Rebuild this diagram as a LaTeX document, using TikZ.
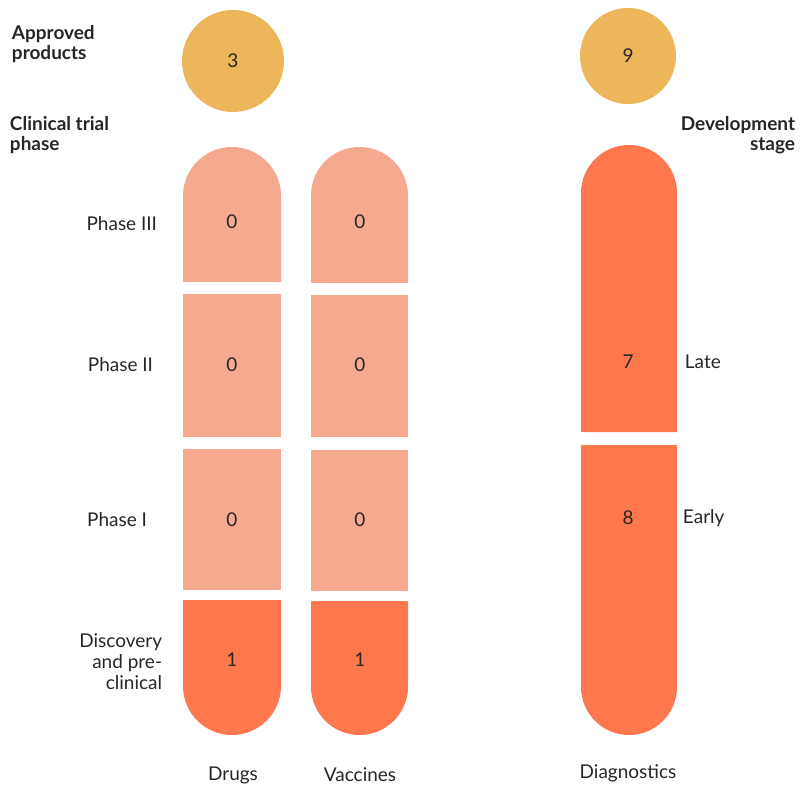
\documentclass[tikz,border=0pt]{standalone}
\usepackage{fontspec}
\setmainfont{Lato}
\usetikzlibrary{positioning}
\definecolor{lightseg}{HTML}{F5AA90}
\definecolor{darkseg}{HTML}{FF774C}
\definecolor{approved}{HTML}{EDB65A}
\tikzset{txt/.style={font=\fontsize{13.5}{16}\selectfont, text=black!85}}
\tikzset{head/.style={txt, font=\fontsize{13.5}{16}\selectfont\bfseries, align=left}}
\tikzset{num/.style={txt}}
% top rounded, flat rounded bottom segments
\newcommand{\topseg}[5]{\fill[#5] (#1,#4) -- (#1,#3+#2/2) arc[start angle=180,end angle=360,radius=#2/2] -- (#1+#2,#4) -- cycle;}
\newcommand{\midseg}[5]{\fill[#5] (#1,#3) rectangle (#1+#2,#4);}
\newcommand{\botseg}[5]{\fill[#5] (#1,#3) -- (#1,#4-#2/2) arc[start angle=180,end angle=0,radius=#2/2] -- (#1+#2,#3) -- cycle;}
\begin{document}
\begin{tikzpicture}[x=0.025cm,y=-0.025cm]
\useasboundingbox (0,0) rectangle (808,806);

% approved products
\fill[approved] (233,61) circle[radius=51];
\fill[approved] (628,56) circle[radius=48];
\node[num] (drugsApp) at (233,61) {3};
\node[num] (diagApp) at (628,56) {9};

% drugs
\topseg{183}{98}{147}{282}{lightseg}
\midseg{183}{98}{294}{437}{lightseg}
\midseg{183}{98}{449}{590}{lightseg}
\botseg{183}{98}{600}{735}{darkseg}
% vaccines
\topseg{311}{97}{147}{283}{lightseg}
\midseg{311}{97}{295}{437}{lightseg}
\midseg{311}{97}{450}{591}{lightseg}
\botseg{311}{97}{601}{735}{darkseg}
% diagnostics
\topseg{581}{96}{145}{432}{darkseg}
\botseg{581}{96}{445}{735}{darkseg}

\node[num] (d3) at (232,222) {0};
\node[num] (d2) at (232,365) {0};
\node[num] (d1) at (232,520) {0};
\node[num] (d0) at (232,660) {1};
\node[num] (v3) at (360,222) {0};
\node[num] (v2) at (360,365) {0};
\node[num] (v1) at (360,520) {0};
\node[num] (v0) at (360,660) {1};
\node[num] (late) at (628,362) {7};
\node[num] (early) at (628,518) {8};

\node[head, anchor=west] (appLabel) at (7,44) {Approved\\[-2pt]products};
\node[head, anchor=west] (phaseLabel) at (5,135) {Clinical trial\\[-2pt]phase};
\node[head, anchor=east, align=right] (stageLabel) at (800,135) {Development\\[-2pt]stage};

\node[txt, anchor=east] (p3) at (162,224) {Phase III};
\node[txt, anchor=east] (p2) at (158,365) {Phase II};
\node[txt, anchor=east] (p1) at (152,520) {Phase I};
\node[txt, anchor=east, align=right] (p0) at (167,662) {Discovery\\[-1pt]and pre-\\[-1pt]clinical};
\node[txt, anchor=west] (lateLabel) at (680,362) {Late};
\node[txt, anchor=west] (earlyLabel) at (678,518) {Early};

\node[txt] (drugs) at (233,775) {Drugs};
\node[txt] (vaccines) at (360,775) {Vaccines};
\node[txt] (diagnostics) at (628,773) {Diagnostics};
\end{tikzpicture}
\end{document}
